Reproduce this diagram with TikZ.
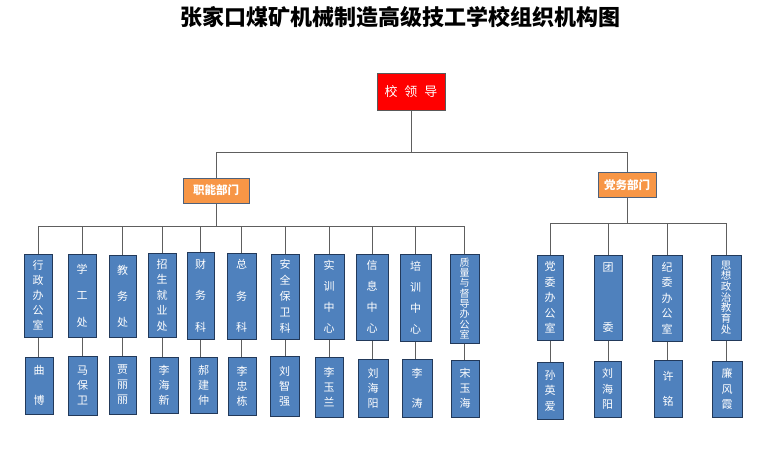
\documentclass[tikz,border=0pt]{standalone}
\usepackage{fontspec}
\newfontfamily\cjk{Noto Sans CJK SC}
\definecolor{LeadRed}{HTML}{FF0000}
\definecolor{DeptOrange}{HTML}{F79646}
\definecolor{UnitBlue}{HTML}{4F81BD}
\definecolor{UnitBorder}{HTML}{22395A}
\definecolor{LineGray}{HTML}{5E5E5E}

\begin{document}
\begin{tikzpicture}[
    x=1pt, y=-1pt,
    font=\cjk,
    leader/.style={draw=gray!70!black, fill=LeadRed, line width=1pt, text=white, inner sep=0pt, minimum width=68pt, minimum height=37pt, font=\cjk\fontsize{13}{15}\selectfont},
    branch/.style={draw=UnitBorder!80, fill=DeptOrange, line width=1pt, text=white, inner sep=0pt, minimum height=25pt, font=\cjk\bfseries\fontsize{11.5}{13}\selectfont},
    unit/.style={draw=UnitBorder, fill=UnitBlue, line width=1pt, text=white, align=center, inner sep=0pt, minimum width=28pt, font=\cjk\fontsize{11}{#1}\selectfont},
    link/.style={draw=LineGray, line width=1pt}
]
  \useasboundingbox (0,0) rectangle (768,450);

  % -------------------------------------------------------------
  % TITLE AND LEADERSHIP
  % -------------------------------------------------------------
  \node[font=\cjk\bfseries\fontsize{22}{26}\selectfont] (title) at (400,17) {张家口煤矿机械制造高级技工学校组织机构图};

  \node[leader] (leader) at (411,92) {校\hspace{7pt}领\hspace{7pt}导};

  \node[branch, minimum width=66pt] (zhineng) at (216,190.5) {职能部门};
  \node[branch, minimum width=58pt] (dangwu) at (627,185) {党务部门};

  \coordinate (busTop) at (411,152);
  \draw[link] (leader.south) -- (busTop);
  \draw[link] (zhineng.north) |- (busTop);
  \draw[link] (dangwu.north) |- (busTop);

  % -------------------------------------------------------------
  % FUNCTIONAL DEPARTMENTS
  % -------------------------------------------------------------
  \node[unit=15, minimum height=83pt] (d1) at (38,295.5) {行\\政\\办\\公\\室};
  \node[unit=26.5, minimum height=83pt] (d2) at (82,295.5) {学\\工\\处};
  \node[unit=26, minimum width=27pt, minimum height=82pt] (d3) at (122.5,296) {教\\务\\处};
  \node[unit=15.5, minimum height=84pt] (d4) at (162,295) {招\\生\\就\\业\\处};
  \node[unit=31.5, minimum width=27pt, minimum height=87pt] (d5) at (200.5,295.5) {财\\务\\科};
  \node[unit=31.5, minimum width=29pt, minimum height=86pt] (d6) at (241.5,296) {总\\务\\科};
  \node[unit=16, minimum height=85pt] (d7) at (285,296.5) {安\\全\\保\\卫\\科};
  \node[unit=21, minimum width=30pt, minimum height=85pt] (d8) at (329,296.5) {实\\训\\中\\心};
  \node[unit=21, minimum width=32pt, minimum height=86pt] (d9) at (372,297) {信\\息\\中\\心};
  \node[unit=21, minimum width=31pt, minimum height=87pt] (d10) at (415.5,297.5) {培\\训\\中\\心};
  \node[unit=10.3, minimum width=29pt, minimum height=89pt, font=\cjk\fontsize{10}{10.3}\selectfont] (d11) at (464.5,298.5) {质\\量\\与\\督\\导\\办\\公\\室};

  % heads
  \node[unit=30, minimum height=57pt] (n1) at (39,385.5) {曲\\博};
  \node[unit=15, minimum width=29pt, minimum height=59pt] (n2) at (82.5,385.5) {马\\保\\卫};
  \node[unit=15, minimum width=27pt, minimum height=58pt] (n3) at (122.5,385) {贾\\丽\\丽};
  \node[unit=15, minimum height=56pt] (n4) at (164,385) {李\\海\\新};
  \node[unit=15, minimum width=27pt, minimum height=56pt] (n5) at (203.5,385) {郝\\建\\仲};
  \node[unit=15, minimum height=58pt] (n6) at (242,386) {李\\忠\\栋};
  \node[unit=15, minimum width=29pt, minimum height=60pt] (n7) at (284.5,386) {刘\\智\\强};
  \node[unit=15, minimum height=60pt] (n8) at (329,387) {李\\玉\\兰};
  \node[unit=15, minimum width=30pt, minimum height=58pt] (n9) at (373,388) {刘\\海\\阳};
  \node[unit=30, minimum width=30pt, minimum height=58pt] (n10) at (417,388) {李\\涛};
  \node[unit=15, minimum height=57pt] (n11) at (465,388.5) {宋\\玉\\海};

  \coordinate (busL) at (216,226);
  \draw[link] (zhineng.south) -- (busL);
  \foreach \u in {d1,d2,d3,d4,d5,d6,d7,d8,d9,d10,d11}
    \draw[link] (\u.north) |- (busL);
  \foreach \u/\n in {d1/n1,d2/n2,d3/n3,d4/n4,d5/n5,d6/n6,d7/n7,d8/n8,d9/n9,d10/n10,d11/n11}
    \draw[link] (\u.south) -- (\u.south |- \n.north);

  % -------------------------------------------------------------
  % PARTY DEPARTMENTS
  % -------------------------------------------------------------
  \node[unit=15.5, minimum width=26pt, minimum height=85pt] (p1) at (550,297.5) {党\\委\\办\\公\\室};
  \node[unit=60, minimum height=85pt] (p2) at (608,297.5) {团\\委};
  \node[unit=15.5, minimum width=30pt, minimum height=86pt] (p3) at (667,298) {纪\\委\\办\\公\\室};
  \node[unit=10.7, minimum width=30pt, minimum height=85pt, font=\cjk\fontsize{10.5}{10.7}\selectfont] (p4) at (726,297.5) {思\\想\\政\\治\\教\\育\\处};

  % heads
  \node[unit=15.5, minimum width=26pt, minimum height=57pt] (q1) at (550,390.5) {孙\\英\\爱};
  \node[unit=15.5, minimum width=27pt, minimum height=56pt] (q2) at (607.5,389) {刘\\海\\阳};
  \node[unit=25, minimum height=57pt] (q3) at (668,388.5) {许\\铭};
  \node[unit=15.5, minimum width=30pt, minimum height=56pt] (q4) at (727,389) {廉\\风\\霞};

  \coordinate (busR) at (627,223);
  \draw[link] (dangwu.south) -- (busR);
  \foreach \u in {p1,p2,p3,p4}
    \draw[link] (\u.north) |- (busR);
  \foreach \u/\n in {p1/q1,p2/q2,p3/q3,p4/q4}
    \draw[link] (\u.south) -- (\u.south |- \n.north);

\end{tikzpicture}
\end{document}
